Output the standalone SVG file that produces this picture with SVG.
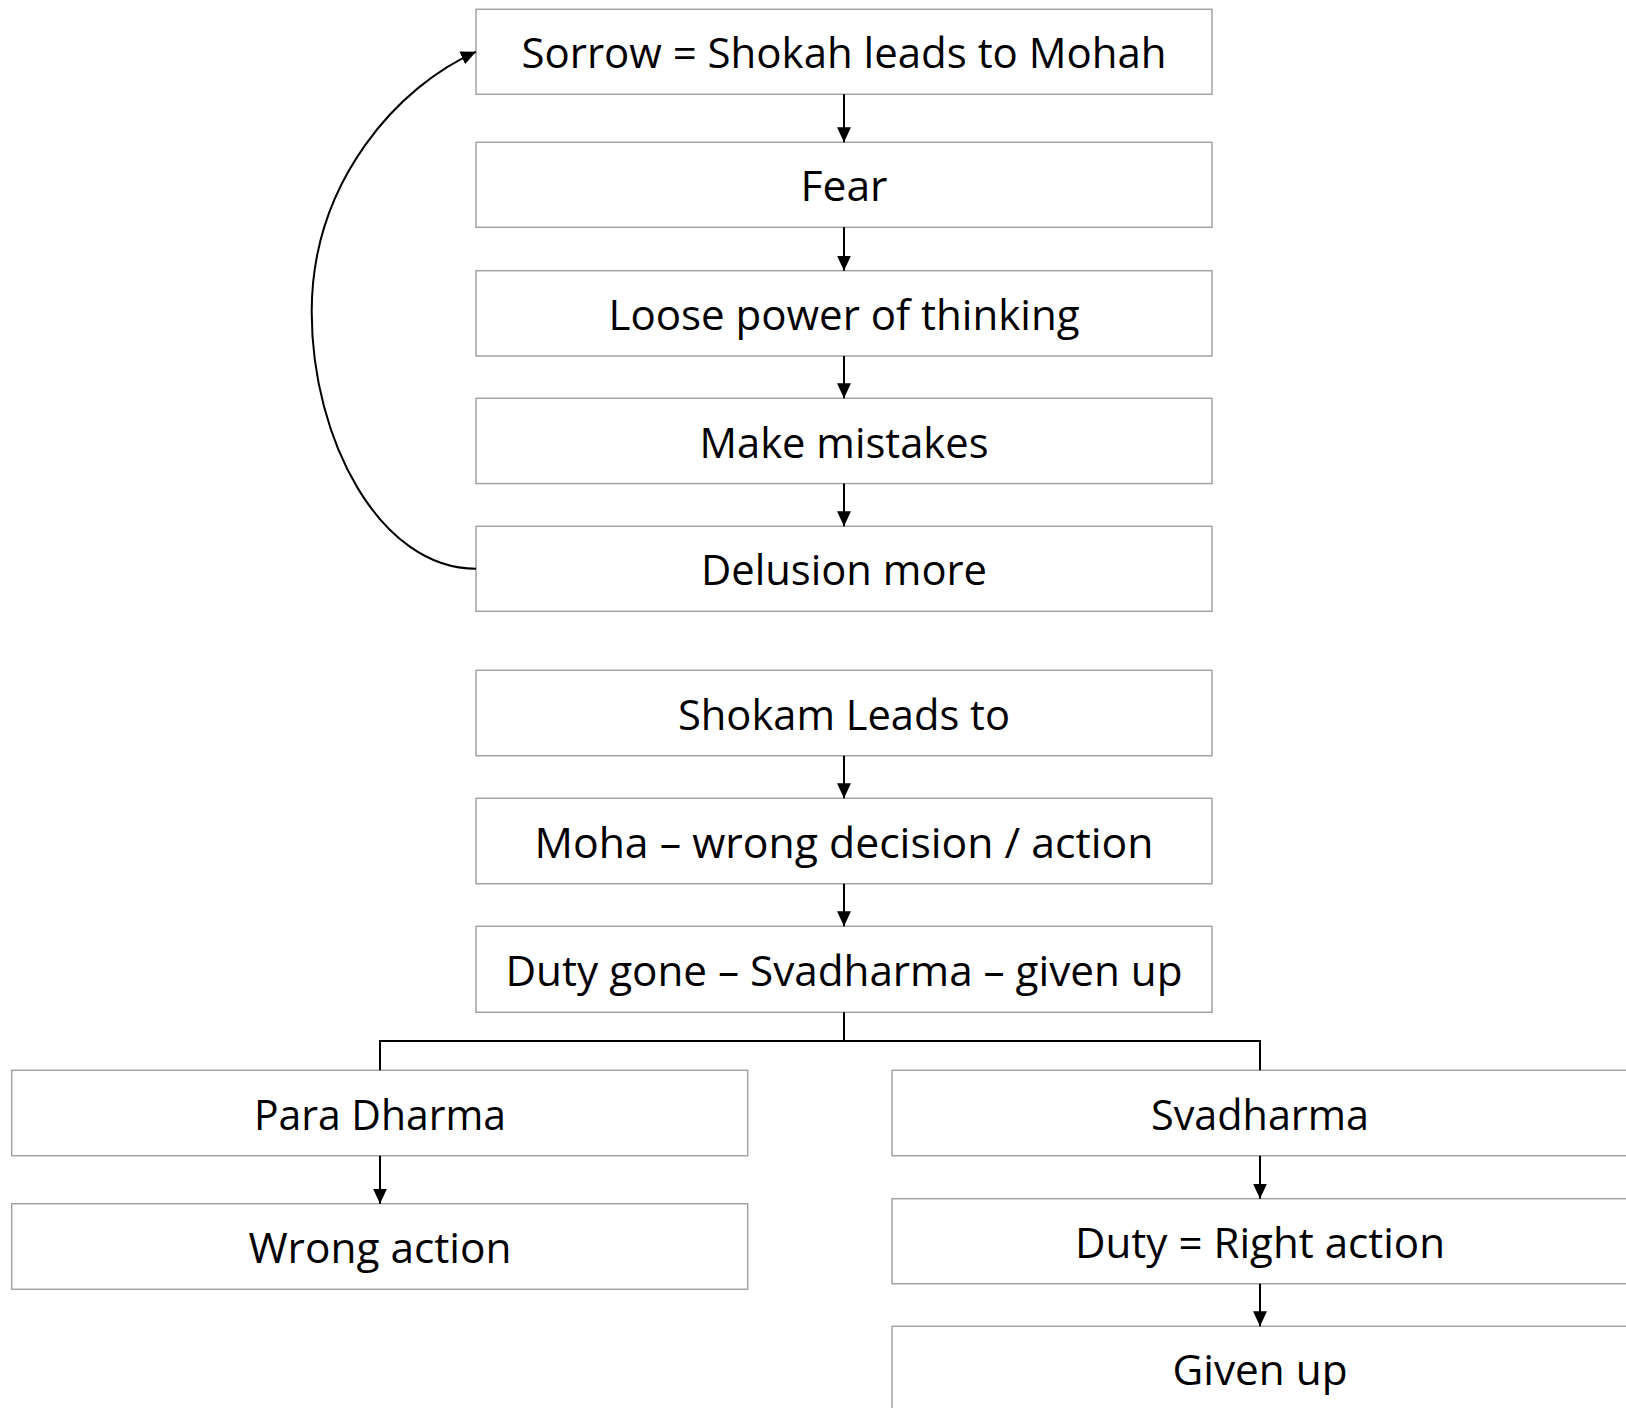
<svg xmlns="http://www.w3.org/2000/svg" width="1626" height="1408" viewBox="0 0 1626 1408">
<style>
.box{fill:#ffffff;stroke:#a3a3a3;stroke-width:1.5}
.lbl{font-family:"Open Sans","Liberation Sans",sans-serif;font-size:42px;fill:#000000;text-anchor:middle}
.con{fill:none;stroke:#000000;stroke-width:2}
</style>
<defs>
<marker id="ah" markerUnits="userSpaceOnUse" markerWidth="15" markerHeight="14" refX="15" refY="7" orient="auto" viewBox="0 0 15 14">
<path d="M0,0 L15,7 L0,14 z" fill="#000000"/>
</marker>
</defs>
<rect width="1626" height="1408" fill="#ffffff"/>
<g id="n-sorrow"><rect class="box" x="476" y="9.3" width="736" height="85"/><text class="lbl" x="844" y="68.3" textLength="645" lengthAdjust="spacingAndGlyphs">Sorrow = Shokah leads to Mohah</text></g>
<g id="n-fear"><rect class="box" x="476" y="142.3" width="736" height="85"/><text class="lbl" x="844" y="201.3" textLength="87" lengthAdjust="spacingAndGlyphs">Fear</text></g>
<g id="n-loose"><rect class="box" x="476" y="270.7" width="736" height="85.3"/><text class="lbl" x="844" y="329.8" textLength="471" lengthAdjust="spacingAndGlyphs">Loose power of thinking</text></g>
<g id="n-mistakes"><rect class="box" x="476" y="398.3" width="736" height="85.3"/><text class="lbl" x="844" y="457.5" textLength="289" lengthAdjust="spacingAndGlyphs">Make mistakes</text></g>
<g id="n-delusion"><rect class="box" x="476" y="526.3" width="736" height="85"/><text class="lbl" x="844" y="585.3" textLength="286" lengthAdjust="spacingAndGlyphs">Delusion more</text></g>
<g id="n-shokam"><rect class="box" x="476" y="670.3" width="736" height="85.4"/><text class="lbl" x="844" y="729.5" textLength="332" lengthAdjust="spacingAndGlyphs">Shokam Leads to</text></g>
<g id="n-moha"><rect class="box" x="476" y="798.3" width="736" height="85.4"/><text class="lbl" x="844" y="857.5" textLength="619" lengthAdjust="spacingAndGlyphs">Moha – wrong decision / action</text></g>
<g id="n-duty"><rect class="box" x="476" y="926.3" width="736" height="86"/><text class="lbl" x="844" y="985.8" textLength="677" lengthAdjust="spacingAndGlyphs">Duty gone – Svadharma – given up</text></g>
<g id="n-para"><rect class="box" x="11.7" y="1070.3" width="736" height="85.4"/><text class="lbl" x="380" y="1129.5" textLength="252" lengthAdjust="spacingAndGlyphs">Para Dharma</text></g>
<g id="n-wrong"><rect class="box" x="11.7" y="1203.7" width="736" height="85.6"/><text class="lbl" x="380" y="1263" textLength="263" lengthAdjust="spacingAndGlyphs">Wrong action</text></g>
<g id="n-svadharma"><rect class="box" x="892" y="1070.3" width="736" height="85.4"/><text class="lbl" x="1260" y="1129.5" textLength="218" lengthAdjust="spacingAndGlyphs">Svadharma</text></g>
<g id="n-right"><rect class="box" x="892" y="1198.7" width="736" height="85"/><text class="lbl" x="1260" y="1257.7" textLength="370" lengthAdjust="spacingAndGlyphs">Duty = Right action</text></g>
<g id="n-givenup"><rect class="box" x="892" y="1326.3" width="736" height="85"/><text class="lbl" x="1260" y="1385.3" textLength="175" lengthAdjust="spacingAndGlyphs">Given up</text></g>
<g id="connectors">
<line class="con" x1="844" y1="94.3" x2="844" y2="142.3" marker-end="url(#ah)"/>
<line class="con" x1="844" y1="227.3" x2="844" y2="270.7" marker-end="url(#ah)"/>
<line class="con" x1="844" y1="356" x2="844" y2="398.3" marker-end="url(#ah)"/>
<line class="con" x1="844" y1="483.6" x2="844" y2="526.3" marker-end="url(#ah)"/>
<line class="con" x1="844" y1="755.7" x2="844" y2="798.3" marker-end="url(#ah)"/>
<line class="con" x1="844" y1="883.7" x2="844" y2="926.3" marker-end="url(#ah)"/>
<path class="con" d="M844 1012.3 V1041"/>
<path class="con" d="M380 1070.3 V1041 H1260 V1070.3"/>
<line class="con" x1="380" y1="1155.7" x2="380" y2="1203.7" marker-end="url(#ah)"/>
<line class="con" x1="1260" y1="1155.7" x2="1260" y2="1198.7" marker-end="url(#ah)"/>
<line class="con" x1="1260" y1="1283.7" x2="1260" y2="1326.3" marker-end="url(#ah)"/>
<path class="con" d="M476 568.8 C380 568.8 311.7 440 311.7 311.7 C311.7 180 400 85 476 51.8" marker-end="url(#ah)"/>
</g>
</svg>
